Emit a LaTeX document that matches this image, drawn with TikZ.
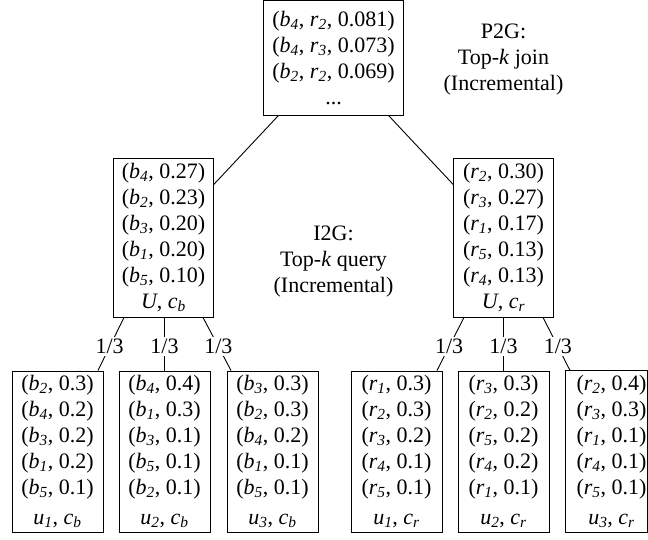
\documentclass[tikz,border=0pt]{standalone}
\usepackage{fontspec}
\setmainfont{Liberation Serif}
\usetikzlibrary{calc}
\newcommand\fs{\fontsize{22}{26}\selectfont}
\newcommand\mysub[2]{\textit{#1}\textsubscript{\textit{#2}}}
\newcommand\pr[3]{(\mysub{#1}{#2}, #3)}
\tikzset{
  frame/.style={line width=0.9pt},
  box/.style={draw, frame, align=center, inner sep=0pt, font=\fs},
  midbox/.style={box, minimum width=99.5pt, minimum height=159pt},
  leafbox/.style={box, minimum width=91pt, minimum height=161pt},
  lbl/.style={align=center, font=\fs, inner sep=0pt},
  edge/.style={line width=0.9pt},
  wt/.style={fill=white, inner sep=2pt, font=\fs, pos=0.55}
}
\begin{document}
\begin{tikzpicture}[x=1pt,y=-1pt]
\useasboundingbox (0,0) rectangle (648,539);
\clip (0,0) rectangle (648,539);
\fill[white] (0,0) rectangle (648,539);

\node[box, minimum width=140pt, minimum height=114.5pt] (top) at (333.5,57.75)
  {(\mysub{b}{4}, \mysub{r}{2}, 0.081)\\(\mysub{b}{4}, \mysub{r}{3}, 0.073)\\(\mysub{b}{2}, \mysub{r}{2}, 0.069)\\...};

\node[midbox] (midL) at (163.5,237.5)
  {\pr{b}{4}{0.27}\\\pr{b}{2}{0.23}\\\pr{b}{3}{0.20}\\\pr{b}{1}{0.20}\\\pr{b}{5}{0.10}\\\textit{U}, \mysub{c}{b}};
\node[midbox] (midR) at (503.5,237.5)
  {\pr{r}{2}{0.30}\\\pr{r}{3}{0.27}\\\pr{r}{1}{0.17}\\\pr{r}{5}{0.13}\\\pr{r}{4}{0.13}\\\textit{U}, \mysub{c}{r}};

\node[lbl] (p2g) at (503.5,60) {P2G:\\Top-\textit{k} join\\(Incremental)};
\node[lbl] (i2g) at (333.5,262) {I2G:\\Top-\textit{k} query\\(Incremental)};

\node[leafbox] (b1) at (57.5,451.5)
  {\pr{b}{2}{0.3}\\\pr{b}{4}{0.2}\\\pr{b}{3}{0.2}\\\pr{b}{1}{0.2}\\\pr{b}{5}{0.1}\\[4pt]\mysub{u}{1}, \mysub{c}{b}};
\node[leafbox] (b2) at (164.5,451.5)
  {\pr{b}{4}{0.4}\\\pr{b}{1}{0.3}\\\pr{b}{3}{0.1}\\\pr{b}{5}{0.1}\\\pr{b}{2}{0.1}\\[4pt]\mysub{u}{2}, \mysub{c}{b}};
\node[leafbox] (b3) at (272.5,451.5)
  {\pr{b}{3}{0.3}\\\pr{b}{2}{0.3}\\\pr{b}{4}{0.2}\\\pr{b}{1}{0.1}\\\pr{b}{5}{0.1}\\[4pt]\mysub{u}{3}, \mysub{c}{b}};
\node[leafbox] (b4) at (396.5,451.5)
  {\pr{r}{1}{0.3}\\\pr{r}{2}{0.3}\\\pr{r}{3}{0.2}\\\pr{r}{4}{0.1}\\\pr{r}{5}{0.1}\\[4pt]\mysub{u}{1}, \mysub{c}{r}};
\node[leafbox] (b5) at (503.5,451.5)
  {\pr{r}{3}{0.3}\\\pr{r}{2}{0.2}\\\pr{r}{5}{0.2}\\\pr{r}{4}{0.2}\\\pr{r}{1}{0.1}\\[4pt]\mysub{u}{2}, \mysub{c}{r}};
\node[leafbox, draw=none] (b6) at (611.5,451.5)
  {\pr{r}{2}{0.4}\\\pr{r}{3}{0.3}\\\pr{r}{1}{0.1}\\\pr{r}{4}{0.1}\\\pr{r}{5}{0.1}\\[4pt]\mysub{u}{3}, \mysub{c}{r}};
\coordinate (redge) at (647.5,0);
\draw[frame] (b6.north west) rectangle (redge |- b6.south);

\draw[edge] ($(top.south)+(-55,0)$) -- ($(midL.north east)+(0,27)$);
\draw[edge] ($(top.south)+(55,0)$) -- ($(midR.north west)+(0,27)$);

\draw[edge] ($(midL.south)+(-39.5,0)$) -- node[wt]{1/3} ($(b1.north east)+(-5.5,0)$);
\draw[edge] (b2.north |- midL.south) -- node[wt]{1/3} (b2.north);
\draw[edge] ($(midL.south)+(39.5,0)$) -- node[wt]{1/3} ($(b3.north west)+(4.5,0)$);

\draw[edge] ($(midR.south)+(-39.5,0)$) -- node[wt]{1/3} ($(b4.north east)+(-5.5,0)$);
\draw[edge] (b5.north |- midR.south) -- node[wt]{1/3} (b5.north);
\draw[edge] ($(midR.south)+(39.5,0)$) -- node[wt]{1/3} ($(b6.north west)+(4.5,0)$);
\end{tikzpicture}
\end{document}
